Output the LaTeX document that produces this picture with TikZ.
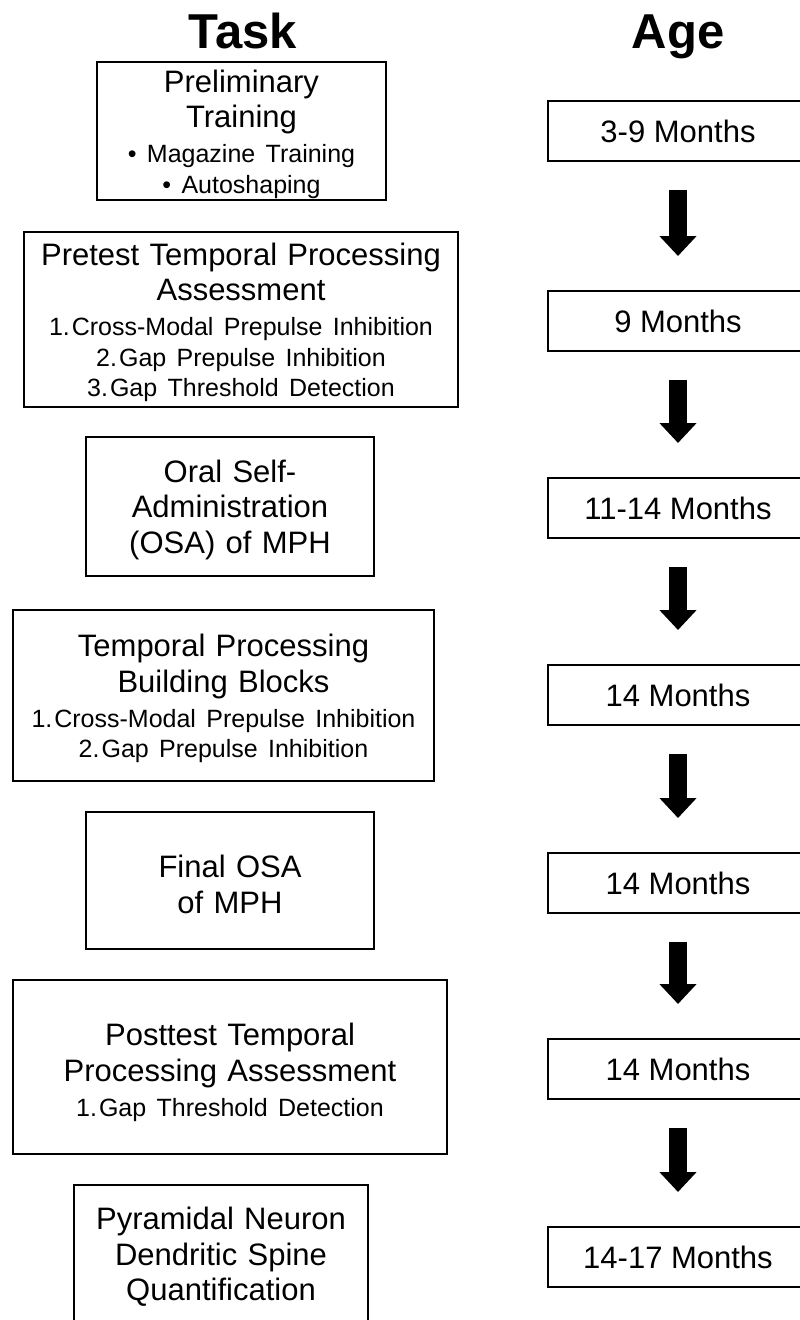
\documentclass[tikz,border=0pt]{standalone}
\usepackage{fontspec}
\setmainfont{Liberation Sans}
\usetikzlibrary{arrows.meta}
\newcommand\tfbig{\fontsize{31}{35.5}\selectfont}
\newcommand\tfsmall{\fontsize{25}{30.5}\selectfont}
\newcommand\tftitle{\fontsize{49}{56}\selectfont\bfseries}
\newcommand\smallpart{\par\vspace{4.5pt}\tfsmall}
\newcommand\topgap{\rule{0pt}{28.5pt}}
\begin{document}
\begin{tikzpicture}[x=1pt,y=-1pt,
  taskbox/.style={draw, line width=2pt, align=center, inner sep=0pt, font=\tfbig},
  agebox/.style={draw, line width=2pt, minimum width=260pt, minimum height=60pt, inner sep=0pt, font=\tfbig},
  blockarrow/.style={line width=18pt, -{Triangle[width=36pt,length=20pt]}, shorten <=28pt, shorten >=34pt},
  title/.style={font=\tftitle, inner sep=0pt, anchor=base}]
\useasboundingbox (0,0) rectangle (800,1320);
\fill[white] (0,0) rectangle (800,1320);

\node[title] (task) at (243,48) {Task};
\node[title] (age) at (678,48) {Age};

\node[taskbox, text width=289pt, minimum height=138pt] (t1) at (241.5,131)
  {\topgap Preliminary\par Training\smallpart \textbullet\ Magazine Training\par \textbullet\ Autoshaping\par};
\node[taskbox, text width=434pt, minimum height=175pt] (t2) at (241,319.5)
  {\topgap Pretest Temporal Processing\par Assessment\smallpart 1.\hspace{2pt}Cross-Modal Prepulse Inhibition\par 2.\hspace{2pt}Gap Prepulse Inhibition\par 3.\hspace{2pt}Gap Threshold Detection\par};
\node[taskbox, text width=288pt, minimum height=139pt] (t3) at (230,506.5)
  {\topgap Oral Self-\par Administration\par (OSA) of MPH\par};
\node[taskbox, text width=421pt, minimum height=171pt] (t4) at (223.5,695.5)
  {\topgap Temporal Processing\par Building Blocks\smallpart 1.\hspace{2pt}Cross-Modal Prepulse Inhibition\par 2.\hspace{2pt}Gap Prepulse Inhibition\par};
\node[taskbox, text width=288pt, minimum height=137pt] (t5) at (230,880.5)
  {\rule{0pt}{30pt}Final OSA\par of MPH\par};
\node[taskbox, text width=434pt, minimum height=174pt] (t6) at (230,1067)
  {\rule{0pt}{33pt}Posttest Temporal\par Processing Assessment\smallpart 1.\hspace{2pt}Gap Threshold Detection\par};
\node[taskbox, text width=294pt, minimum height=138pt] (t7) at (221,1254)
  {\topgap Pyramidal Neuron\par Dendritic Spine\par Quantification\par};

\node[agebox] (a1) at (678,131) {3-9 Months};
\node[agebox] (a2) at (678,321) {9 Months};
\node[agebox] (a3) at (678,508) {11-14 Months};
\node[agebox] (a4) at (678,695) {14 Months};
\node[agebox] (a5) at (678,883) {14 Months};
\node[agebox] (a6) at (678,1069) {14 Months};
\node[agebox] (a7) at (678,1257) {14-17 Months};

\draw[blockarrow] (a1.south) -- (a2.north);
\draw[blockarrow] (a2.south) -- (a3.north);
\draw[blockarrow] (a3.south) -- (a4.north);
\draw[blockarrow] (a4.south) -- (a5.north);
\draw[blockarrow] (a5.south) -- (a6.north);
\draw[blockarrow] (a6.south) -- (a7.north);
\end{tikzpicture}
\end{document}
